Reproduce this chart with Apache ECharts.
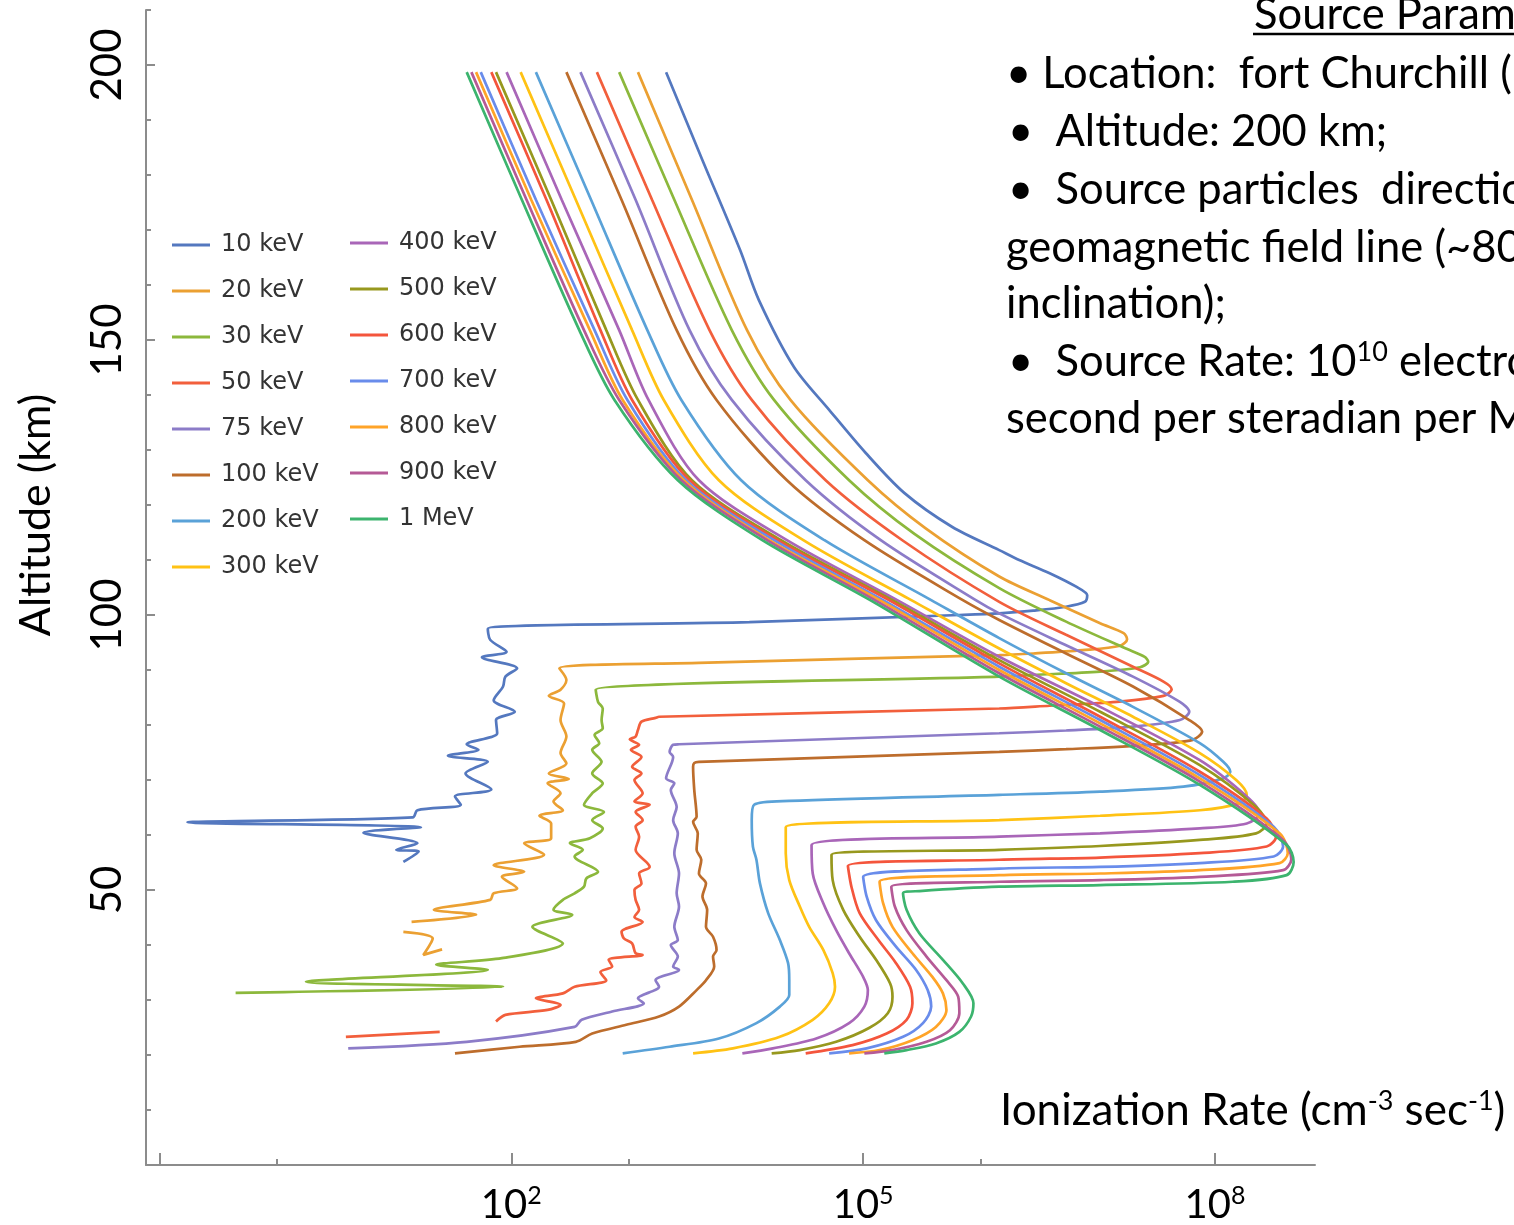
<!DOCTYPE html>
<html>
<head>
<meta charset="utf-8">
<title>Ionization Rate vs Altitude</title>
<script src="https://cdn.jsdelivr.net/npm/echarts@6.0.0/dist/echarts.min.js"></script>
<style>
    html, body { margin: 0; padding: 0; background: #fff; }
    #main { width: 1514px; height: 1225px; }
</style>
</head>
<body>
<div id="main"></div>
<script>
// energies and colours
var energyLabels = ['10 keV', '20 keV', '30 keV', '50 keV', '75 keV', '100 keV', '200 keV', '300 keV',
    '400 keV', '500 keV', '600 keV', '700 keV', '800 keV', '900 keV', '1 MeV'];
var lineColors = ['#5478bf', '#eba032', '#8cb83c', '#f25f3c', '#8c7cc8', '#bd6d2c', '#5aa2d8', '#ffc214',
    '#a966b8', '#97981e', '#f4553c', '#698ceb', '#ffa428', '#b55a96', '#3cb46e'];

// axis ticks (x axis in powers of ten)
var majorExps = [-1, 2, 5, 8];
var minorExps = [0, 3, 6];
var labelExps = [2, 5, 8];
var altTicks = [50, 100, 150, 200];

// profiles: [log10 ionization rate, altitude km], null = gap in the trace
var rate10keV = [[3.32,198.7],[3.63,182.7],[3.95,166.4],[4.11,157.3],[4.41,145.1],[4.71,137.3],[5.02,129.5],[5.35,122.2],[5.76,116.0],[6.16,111.8],[6.33,110.0],[6.59,107.6],[6.82,105.1],[6.91,103.6],[6.89,102.4],[6.73,101.5],[6.45,100.8],[6.16,100.3],[5.82,100.0],[4.03,98.7],[1.80,97.5],
    [1.82,95.5],[1.96,93.3],[1.75,92.3],[2.05,90.3],[1.95,88.8],[1.93,87.0],[1.85,84.5],[2.03,82.4],[1.87,80.9],[1.88,78.5],[1.62,76.5],[1.72,75.5],[1.46,74.4],[1.80,73.3],[1.61,71.2],[1.83,68.3],[1.52,67.0],[1.57,65.5],[1.20,64.5],[1.16,63.2],[-0.76,62.3],[1.23,61.4],[0.74,60.4],[1.20,58.5],[1.02,57.3],[1.21,57.0],[1.08,55.1]];
var rate20keV = [[3.08,198.7],[3.54,175.5],[4.01,151.8],[4.38,139.1],[5.04,124.5],[5.53,115.8],[6.16,107.0],[6.59,102.7],[7.02,98.5],[7.22,96.7],[7.25,95.6],[7.19,94.4],[6.87,93.6],[6.45,93.0],[6.16,92.7],[3.60,91.3],[2.41,90.3],
    [2.47,88.2],[2.42,86.4],[2.32,85.3],[2.45,83.9],[2.42,80.9],[2.47,77.9],[2.42,74.9],[2.47,73.0],[2.32,71.2],[2.49,70.2],[2.31,69.4],[2.42,67.6],[2.36,66.1],[2.44,64.5],[2.24,63.5],[2.34,62.1],[2.34,59.4],[2.11,58.5],[2.28,56.4],[1.85,54.5],[2.11,53.3],[1.92,52.4],[2.05,50.3],[1.85,49.4],[1.82,48.2],[1.34,46.4],[1.70,45.5],[1.15,44.2],
    null,[1.08,42.4],[1.33,41.2],[1.25,38.2],[1.41,39.2]];
var rate30keV = [[2.92,198.7],[3.39,175.5],[3.88,151.8],[4.24,139.1],[4.88,124.5],[5.44,114.7],[6.16,104.9],[6.73,98.8],[7.24,93.9],[7.40,92.4],[7.43,91.5],[7.36,90.5],[7.02,89.7],[6.45,89.1],[6.16,88.8],[2.72,86.4],
    [2.74,84.2],[2.78,83.0],[2.77,80.9],[2.78,79.4],[2.71,78.2],[2.75,76.7],[2.69,75.5],[2.77,73.3],[2.69,71.2],[2.78,69.4],[2.69,67.6],[2.62,65.5],[2.79,64.2],[2.69,62.7],[2.78,61.2],[2.67,59.4],[2.50,58.5],[2.61,57.3],[2.54,56.1],[2.74,53.3],[2.64,52.1],[2.62,50.6],[2.54,49.4],[2.44,48.2],[2.36,46.4],[2.52,45.5],[2.18,43.3],[2.44,40.3],[1.92,37.6],[1.36,36.4],[1.80,35.5],[0.25,33.3],[1.93,32.4],[-0.35,31.3]];
var rate50keV = [[2.73,198.7],[3.20,175.5],[3.69,151.8],[4.05,139.1],[4.68,124.5],[5.34,113.5],[6.16,102.4],[6.73,96.4],[7.30,90.6],[7.56,87.9],[7.63,86.5],[7.56,85.3],[7.16,84.2],[6.59,83.5],[6.16,83.0],[3.26,81.5],[3.23,81.3],
    [3.11,80.6],[3.08,79.1],[3.06,77.9],[3.01,77.4],[3.09,76.4],[3.02,75.5],[3.11,74.2],[3.03,72.4],[3.11,71.2],[3.05,70.0],[3.12,67.6],[3.05,66.1],[3.18,65.5],[3.06,64.2],[3.12,62.7],[3.06,61.5],[3.09,59.7],[3.06,57.3],[3.18,54.2],[3.09,53.0],[3.11,51.2],[3.05,50.0],[3.06,48.2],[3.09,46.4],[3.05,45.1],[3.12,44.2],[2.94,42.4],[2.96,41.2],[3.03,40.3],[3.06,38.5],[3.12,38.2],[2.83,37.3],[2.86,36.1],[2.76,35.1],[2.81,33.6],[2.54,32.4],[2.44,31.2],[2.21,30.3],[2.42,29.1],[2.31,28.2],[1.95,27.3],[1.87,26.1],
    null,[0.59,23.3],[1.39,24.2]];
var rate75keV = [[2.59,198.7],[3.06,175.5],[3.52,151.8],[3.88,139.1],[4.51,124.5],[5.15,113.6],[5.96,102.7],[6.16,100.3],[6.73,94.5],[7.30,88.8],[7.70,84.2],[7.78,82.4],[7.70,80.9],[7.30,79.7],[6.73,79.0],[6.16,78.5],[3.43,76.5],[3.38,76.4],
    [3.35,75.1],[3.38,74.2],[3.32,70.3],[3.39,69.4],[3.36,68.2],[3.41,65.1],[3.38,62.7],[3.42,60.3],[3.39,56.7],[3.43,53.0],[3.41,49.4],[3.43,47.0],[3.39,43.3],[3.42,40.9],[3.36,40.0],[3.42,37.9],[3.38,36.1],[3.43,35.5],[3.23,33.6],[3.26,32.4],[3.08,30.3],[3.13,29.4],[2.86,27.9],[2.60,26.4],[2.54,25.1],[1.62,22.4],[0.61,21.2]];
var rate100keV = [[2.47,198.7],[2.94,175.5],[3.41,151.8],[3.75,139.1],[4.35,124.5],[5.01,113.6],[5.85,102.7],[6.16,99.1],[6.73,93.0],[7.30,87.0],[7.78,80.9],[7.89,78.8],[7.81,77.3],[7.44,76.4],[6.73,75.6],[6.16,75.1],[3.60,73.3],[3.56,73.1],
    [3.55,72.4],[3.56,68.2],[3.58,63.3],[3.55,62.4],[3.59,60.3],[3.58,57.3],[3.62,55.5],[3.60,53.0],[3.66,51.2],[3.63,48.8],[3.67,46.4],[3.66,43.3],[3.72,41.5],[3.75,39.1],[3.72,37.9],[3.73,36.1],[3.66,33.6],[3.58,31.8],[3.43,28.8],[3.26,27.0],[2.98,25.5],[2.69,23.9],[2.55,22.4],[2.07,21.5],[1.52,20.3]];
var rate200keV = [[2.21,198.7],[2.68,175.5],[3.16,151.8],[3.45,139.1],[3.96,124.5],[4.67,113.6],[5.58,102.7],[6.16,95.8],[6.73,89.4],[7.30,83.3],[7.87,76.7],[8.07,73.3],[8.13,71.5],[8.07,70.3],[7.73,68.8],[7.02,67.9],[6.16,67.3],[4.37,66.2],[4.07,65.5],
    [4.05,62.7],[4.06,57.9],[4.09,55.5],[4.12,51.2],[4.19,45.8],[4.29,40.9],[4.36,36.7],[4.37,33.6],[4.37,30.9],[4.29,28.8],[4.09,25.8],[3.77,23.0],[3.35,21.5],[2.95,20.3]];
var rate300keV = [[2.08,198.7],[2.55,175.5],[3.03,151.8],[3.30,139.1],[3.77,124.5],[4.49,113.6],[5.41,102.7],[6.16,93.9],[6.73,87.6],[7.30,81.5],[7.87,74.9],[8.18,70.0],[8.27,67.3],[8.21,65.8],[7.87,64.5],[7.02,63.5],[6.16,62.7],[4.34,61.4],
    [4.34,56.7],[4.37,51.8],[4.46,47.0],[4.54,43.3],[4.66,39.1],[4.74,34.9],[4.76,32.4],[4.71,29.4],[4.57,26.4],[4.29,23.3],[3.89,21.2],[3.55,20.3]];
var rate400keV = [[1.96,198.7],[2.43,175.5],[2.92,151.8],[3.17,139.1],[3.60,124.5],[4.35,113.6],[5.29,102.7],[6.16,92.4],[7.02,83.3],[7.87,73.6],[8.27,67.0],[8.38,63.9],[8.27,62.1],[7.87,61.2],[7.02,60.3],[6.16,59.7],[4.56,58.2],
    [4.57,53.0],[4.66,47.6],[4.77,42.7],[4.88,38.5],[5.00,34.2],[5.04,31.8],[5.01,28.8],[4.88,25.8],[4.60,23.0],[4.23,21.2],[3.97,20.3]];
var rate500keV = [[1.87,198.7],[2.34,175.5],[2.81,151.8],[3.08,139.1],[3.54,124.5],[4.30,113.6],[5.25,102.7],[6.16,91.8],[7.02,82.4],[7.87,72.7],[8.35,65.1],[8.44,62.1],[8.35,60.3],[7.87,59.1],[7.02,58.0],[6.16,57.3],[4.73,56.4],
    [4.74,51.8],[4.83,46.4],[4.97,41.5],[5.11,37.3],[5.23,33.0],[5.25,30.6],[5.21,27.6],[5.05,24.9],[4.77,22.4],[4.46,20.9],[4.22,20.3]];
var rate600keV = [[1.83,198.7],[2.30,175.5],[2.76,151.8],[3.03,139.1],[3.52,124.5],[4.27,113.6],[5.22,102.7],[6.16,91.2],[7.02,81.5],[7.87,71.5],[8.44,63.0],[8.52,59.7],[8.44,57.9],[7.87,56.7],[7.02,55.9],[6.16,55.5],[4.87,54.4],
    [4.90,50.6],[4.97,45.8],[5.13,40.9],[5.28,36.7],[5.40,32.4],[5.42,29.4],[5.37,26.4],[5.20,23.9],[4.91,21.8],[4.51,20.3]];
var rate700keV = [[1.74,198.7],[2.21,175.5],[2.71,151.8],[2.99,139.1],[3.49,124.5],[4.24,113.6],[5.17,102.7],[6.16,90.6],[7.02,80.9],[7.87,70.9],[8.50,61.5],[8.58,57.9],[8.50,56.1],[7.87,54.9],[7.02,54.2],[6.16,53.9],[5.00,52.4],
    [5.03,48.8],[5.11,44.5],[5.28,39.7],[5.45,35.5],[5.55,31.8],[5.58,28.8],[5.51,25.8],[5.34,23.3],[5.03,21.2],[4.71,20.3]];
var rate800keV = [[1.70,198.7],[2.17,175.5],[2.67,151.8],[2.95,139.1],[3.47,124.5],[4.20,113.6],[5.14,102.7],[6.16,90.0],[7.02,80.3],[7.87,70.3],[8.55,60.3],[8.62,56.7],[8.55,54.9],[7.87,53.6],[7.02,53.0],[6.16,52.7],[5.14,51.5],
    [5.17,47.6],[5.25,43.3],[5.42,38.5],[5.59,34.2],[5.68,31.2],[5.71,28.2],[5.62,25.1],[5.42,22.7],[5.14,20.9],[4.88,20.3]];
var rate900keV = [[1.66,198.7],[2.13,175.5],[2.62,151.8],[2.92,139.1],[3.45,124.5],[4.18,113.6],[5.10,102.7],[6.16,89.4],[7.02,79.7],[7.87,69.7],[8.58,59.1],[8.65,55.6],[8.58,53.6],[7.87,52.4],[7.02,51.8],[6.16,51.5],[5.24,50.6],
    [5.27,47.0],[5.37,42.7],[5.54,37.9],[5.71,33.6],[5.81,30.6],[5.82,27.6],[5.74,24.5],[5.54,22.4],[5.25,20.9],[5.01,20.3]];
var rate1MeV = [[1.62,198.7],[2.09,175.5],[2.58,151.8],[2.88,139.1],[3.42,124.5],[4.14,113.6],[5.06,102.7],[6.16,88.8],[7.02,79.1],[7.87,69.1],[8.61,58.2],[8.67,55.1],[8.61,52.7],[8.15,51.5],[7.02,50.9],[6.16,50.6],[5.48,49.8],[5.34,49.4],
    [5.37,46.4],[5.48,42.1],[5.68,37.3],[5.85,33.0],[5.94,29.4],[5.92,27.0],[5.82,24.2],[5.62,22.1],[5.37,20.9],[5.18,20.3]];

var profiles = [rate10keV, rate20keV, rate30keV, rate50keV, rate75keV, rate100keV, rate200keV, rate300keV,
    rate400keV, rate500keV, rate600keV, rate700keV, rate800keV, rate900keV, rate1MeV];

var chart = echarts.init(document.getElementById('main'));

var series = [];
for (var i = 0; i < profiles.length; i++) {
    series.push({
        name: energyLabels[i],
        type: 'line',
        data: profiles[i],
        showSymbol: false,
        symbol: 'none',
        smooth: 0.3,
        connectNulls: false,
        color: lineColors[i],
        lineStyle: { width: 2.7, color: lineColors[i] }
    });
}

var axisGray = '#8c8c8c';
var legendText = { fontFamily: 'DejaVu Sans', fontSize: 24, lineHeight: 24, color: '#333', padding: [0, 0, 0, 6] };
var noteFont = '43.5px Lato';
var noteRich = {
    a: { fontFamily: 'Lato', fontSize: 43.5, lineHeight: 46, fill: '#000' },
    s: { fontFamily: 'Lato', fontSize: 27, lineHeight: 28, fill: '#000', verticalAlign: 'top' }
};

var option = {
    animation: false,
    backgroundColor: '#fff',
    grid: { left: 146, right: 199, top: 10, bottom: 60, outerBoundsMode: 'none' },
    legend: [
        {
            data: energyLabels.slice(0, 8), orient: 'vertical', left: 172, top: 233, padding: 0,
            itemWidth: 38, itemHeight: 3, itemGap: 22, icon: 'rect', selectedMode: false, textStyle: legendText
        },
        {
            data: energyLabels.slice(8), orient: 'vertical', left: 350, top: 231, padding: 0,
            itemWidth: 38, itemHeight: 3, itemGap: 22, icon: 'rect', selectedMode: false, textStyle: legendText
        }
    ],
    xAxis: [
        {
            type: 'value', min: -1.114, max: 8.852,
            axisLine: { onZero: false, lineStyle: { color: axisGray, width: 2 } },
            axisTick: { inside: true, length: 12, customValues: majorExps, lineStyle: { color: axisGray, width: 2 } },
            axisLabel: {
                customValues: labelExps, margin: 18,
                formatter: function (v) { return '{b|10}{s|' + v + '}'; },
                rich: {
                    b: { fontFamily: 'Lato', fontSize: 40, lineHeight: 44, color: '#000' },
                    s: { fontFamily: 'Lato', fontSize: 25, lineHeight: 26, color: '#000', verticalAlign: 'top' }
                }
            },
            splitLine: { show: false }
        },
        {
            type: 'value', min: -1.114, max: 8.852, position: 'bottom',
            axisLine: { show: false, onZero: false },
            axisTick: { inside: true, length: 6, customValues: minorExps, lineStyle: { color: axisGray, width: 2 } },
            axisLabel: { show: false },
            splitLine: { show: false }
        }
    ],
    yAxis: [
        {
            type: 'value', min: 0, max: 210, interval: 10,
            axisLine: { show: true, onZero: false, lineStyle: { color: axisGray, width: 2 } },
            axisTick: { inside: true, length: 5, lineStyle: { color: axisGray, width: 2 } },
            axisLabel: { show: false },
            splitLine: { show: false }
        },
        {
            type: 'value', min: 0, max: 210, position: 'left',
            axisLine: { show: false, onZero: false },
            axisTick: { inside: true, length: 9, customValues: altTicks, lineStyle: { color: axisGray, width: 2 } },
            axisLabel: { customValues: altTicks, rotate: 90, margin: 18, fontFamily: 'Lato', fontSize: 42, color: '#000' },
            splitLine: { show: false }
        }
    ],
    graphic: [
        {
            type: 'text', x: 36, y: 515, rotation: Math.PI / 2,
            style: { text: 'Altitude (km)', font: '43px Lato', fill: '#000', textAlign: 'center', textVerticalAlign: 'middle' }
        },
        {
            type: 'text', x: 1000, y: 1111,
            style: {
                text: '{a|Ionization Rate (cm}{s|-3}{a| sec}{s|-1}{a|)}', textVerticalAlign: 'middle',
                rich: {
                    a: { fontFamily: 'Lato', fontSize: 44, lineHeight: 46, fill: '#000' },
                    s: { fontFamily: 'Lato', fontSize: 27, lineHeight: 28, fill: '#000', verticalAlign: 'top' }
                }
            }
        },
        // source parameter notes
        { type: 'text', x: 1254, y: 15, style: { text: 'Source Parameters', font: noteFont, fill: '#000', textVerticalAlign: 'middle' } },
        { type: 'line', shape: { x1: 1253, y1: 34, x2: 1520, y2: 34 }, style: { stroke: '#000', lineWidth: 2.5 } },
        { type: 'text', x: 1006, y: 74, style: { text: '\u2022 Location:  fort Churchill (', font: noteFont, fill: '#000', textVerticalAlign: 'middle' } },
        { type: 'text', x: 1008, y: 132, style: { text: '\u2022  Altitude: 200 km;', font: noteFont, fill: '#000', textVerticalAlign: 'middle' } },
        { type: 'text', x: 1008, y: 190, style: { text: '\u2022  Source particles  directional along', font: noteFont, fill: '#000', textVerticalAlign: 'middle' } },
        { type: 'text', x: 1006, y: 248, style: { text: 'geomagnetic field line (~80\u00b0', font: noteFont, fill: '#000', textVerticalAlign: 'middle' } },
        { type: 'text', x: 1006, y: 304, style: { text: 'inclination);', font: noteFont, fill: '#000', textVerticalAlign: 'middle' } },
        {
            type: 'text', x: 1008, y: 362,
            style: { text: '{a|\u2022  Source Rate: 10}{s|10}{a| electrons per}', textVerticalAlign: 'middle', rich: noteRich }
        },
        { type: 'text', x: 1006, y: 419, style: { text: 'second per steradian per MeV', font: noteFont, fill: '#000', textVerticalAlign: 'middle' } }
    ],
    series: series
};

chart.setOption(option);
</script>
</body>
</html>
